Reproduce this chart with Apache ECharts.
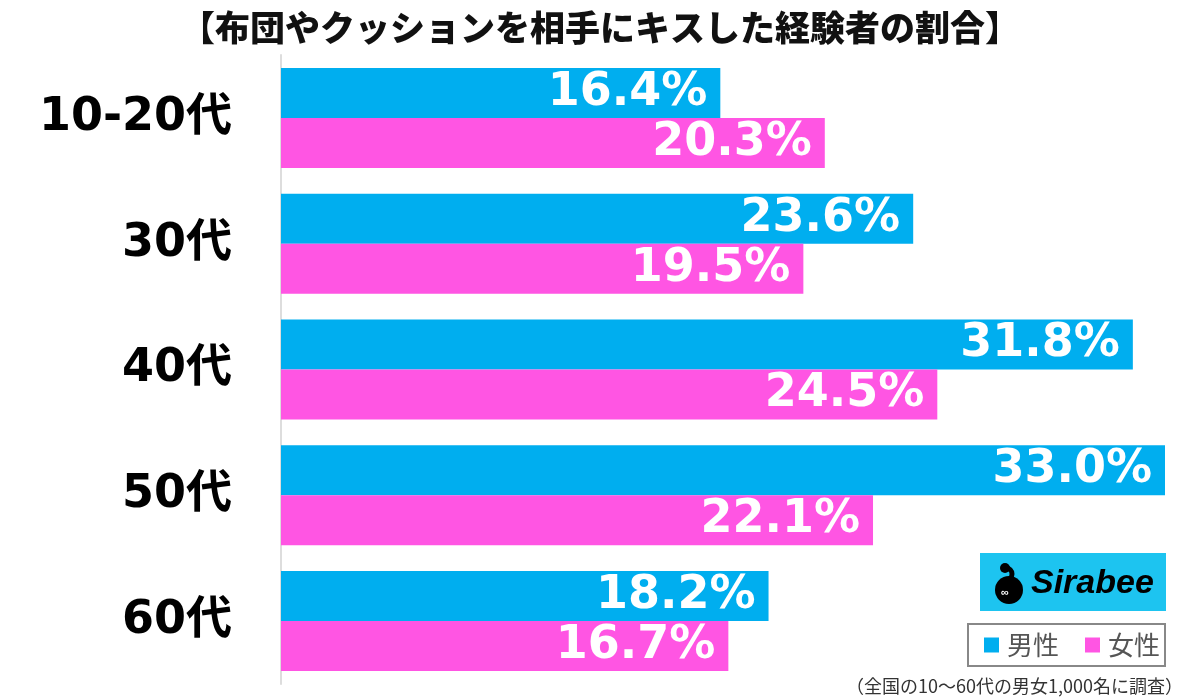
<!DOCTYPE html>
<html>
<head>
<meta charset="utf-8">
<script src="https://cdn.jsdelivr.net/npm/echarts@6/dist/echarts.min.js"></script>
<style>html,body{margin:0;padding:0;background:#fff;}#c{width:1200px;height:699px;}</style>
</head>
<body>
<div id="c"></div>
<script>
const categories = ['10-20代', '30代', '40代', '50代', '60代'];
const maleValues = [16.4, 23.6, 31.8, 33.0, 18.2];
const femaleValues = [20.3, 19.5, 24.5, 22.1, 16.7];
const seriesNames = ['男性', '女性'];
const titleText = '【布団やクッションを相手にキスした経験者の割合】';
const noteText = '（全国の10〜60代の男女1,000名に調査）';

const BLUE = '#00AEEF';
const PINK = '#FF55E3';

const chart = echarts.init(document.getElementById('c'));
const labelOpt = {
  show: true,
  position: 'insideRight',
  distance: 13,
  color: '#fff',
  fontSize: 46,
  fontWeight: 'bold',
  fontFamily: 'DejaVu Sans',
  formatter: p => p.value.toFixed(1) + '%'
};
chart.setOption({
  backgroundColor: '#fff',
  animation: false,
  title: {
    text: titleText,
    left: 'center',
    top: 5,
    textStyle: { fontSize: 35, fontWeight: 900, color: '#111', fontFamily: 'Noto Sans CJK JP' }
  },
  grid: { left: 281, right: 35, top: 55, bottom: 15, containLabel: false },
  xAxis: {
    type: 'value', min: 0, max: 33,
    show: false
  },
  yAxis: {
    type: 'category', data: categories, inverse: true,
    axisLine: { show: true, lineStyle: { color: '#ddd', width: 2 } },
    axisTick: { show: false },
    axisLabel: {
      margin: 49, fontSize: 46, fontWeight: 'bold', color: '#000',
      fontFamily: ['DejaVu Sans', 'Noto Sans CJK JP']
    },
    splitLine: { show: false }
  },
  legend: {
    data: seriesNames,
    right: 35, top: 624,
    icon: 'rect', itemWidth: 15, itemHeight: 15, itemGap: 26,
    borderColor: '#888', borderWidth: 2, borderRadius: 0,
    padding: [8, 5, 8, 16],
    textStyle: { fontSize: 26, color: '#555', fontFamily: 'Noto Sans CJK JP', padding: [0,0,0,3] }
  },
  graphic: [
    { type: 'rect', shape: { x: 980, y: 553, width: 186, height: 58 }, style: { fill: '#1DC4F0' } },
    { type: 'circle', shape: { cx: 1009, cy: 590, r: 14 }, style: { fill: '#000' } },
    { type: 'circle', shape: { cx: 1005, cy: 568, r: 5 }, style: { fill: '#000' } },
    { type: 'arc', shape: { cx: 1006, cy: 574, r: 6, startAngle: -Math.PI / 2, endAngle: Math.PI * 0.6 }, style: { stroke: '#000', lineWidth: 5, fill: 'none' } },
    { type: 'text', style: { x: 1005, y: 593, text: '∞', fill: '#fff', fontSize: 11, fontWeight: 'bold', align: 'center', verticalAlign: 'middle' } },
    { type: 'text', style: { x: 1031, y: 584, text: 'Sirabee', fill: '#000', fontSize: 34, fontWeight: 'bold', fontStyle: 'italic', fontFamily: 'Liberation Sans', verticalAlign: 'middle' } },
    { type: 'text', style: { x: 1183, y: 686, text: noteText, fill: '#333', fontSize: 18, fontFamily: 'Noto Sans CJK JP', align: 'right', verticalAlign: 'middle' } }
  ],
  series: [
    { name: seriesNames[0], type: 'bar', data: maleValues, barWidth: 50, barGap: '0%', itemStyle: { color: BLUE }, label: labelOpt },
    { name: seriesNames[1], type: 'bar', data: femaleValues, barWidth: 50, barGap: '0%', itemStyle: { color: PINK }, label: labelOpt }
  ]
});
</script>
</body>
</html>
